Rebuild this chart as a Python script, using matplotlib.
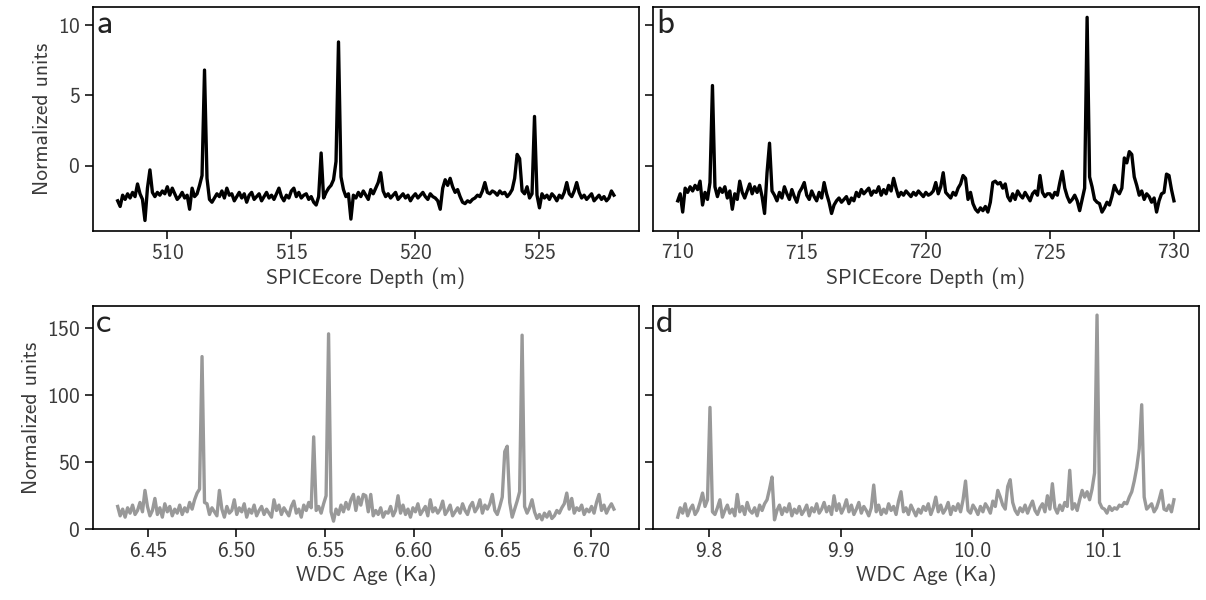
import numpy as np
import matplotlib
matplotlib.use("Agg")
import matplotlib.pyplot as plt

# panel a: SPICEcore depth 508-528 m, 0.1 m steps
depth_a_range = (508.0, 528.0)
signal_a = [
    -2.5, -2.9, -2.1, -2.4, -2.0, -2.3, -1.9, -2.2, -1.3, -2.0,
    -2.4, -3.9, -1.6, -0.3, -1.9, -2.2, -1.9, -2.1, -1.8, -2.0,
    -1.5, -2.1, -1.6, -2.0, -2.4, -2.2, -1.9, -2.3, -2.1, -3.1,
    -1.6, -2.2, -2.0, -1.4, -0.7, 6.8, -0.9, -2.4, -2.6, -2.3,
    -2.0, -2.2, -1.8, -2.3, -1.6, -2.1, -2.0, -2.5, -2.2, -1.9,
    -2.3, -2.0, -2.6, -2.1, -1.9, -2.4, -2.2, -2.0, -2.5, -2.2,
    -1.9, -2.3, -2.1, -2.4, -2.0, -1.6, -2.2, -2.5, -2.1, -2.3,
    -1.8, -1.6, -2.2, -1.9, -2.3, -2.1, -2.0, -2.4, -2.2, -2.6,
    -2.8, -2.2, 0.9, -2.3, -1.9, -1.6, -1.4, -1.0, 0.3, 8.8,
    -0.8, -1.7, -2.2, -2.0, -3.8, -2.1, -2.3, -1.9, -2.2, -1.8,
    -2.1, -2.4, -1.7, -2.0, -1.6, -1.2, -0.5, -1.8, -2.2, -2.0,
    -2.3, -2.1, -1.9, -2.4, -2.2, -2.0, -2.3, -2.1, -2.5, -2.2,
    -2.0, -2.3, -2.1, -1.9, -2.2, -2.4, -2.0, -2.2, -2.3, -2.5,
    -3.1, -1.6, -1.0, -1.4, -0.9, -1.5, -1.9, -1.7, -2.2, -2.6,
    -2.7, -2.5, -2.6, -2.4, -2.3, -2.1, -2.2, -1.8, -1.2, -1.9,
    -2.0, -1.8, -1.9, -2.1, -1.8, -2.0, -1.9, -2.2, -2.0, -1.7,
    -0.9, 0.8, 0.5, -1.8, -2.0, -1.5, -2.3, -2.0, 3.5, -2.1,
    -3.0, -2.0, -2.3, -2.1, -2.4, -2.0, -2.2, -2.5, -2.1, -2.3,
    -1.9, -1.2, -2.0, -2.2, -1.8, -1.2, -1.9, -2.3, -2.1, -2.4,
    -2.2, -2.0, -2.5, -2.3, -2.1, -2.4, -2.2, -2.5, -2.3, -1.8, -2.1,
]

# panel b: SPICEcore depth 710-730 m
depth_b_range = (710.0, 730.0)
signal_b = [
    -2.5, -2.0, -3.3, -1.6, -1.9, -1.5, -1.8, -1.4, -1.7, -1.1,
    -2.8, -1.9, -2.4, -1.2, 5.7, -1.5, -2.2, -1.6, -1.9, -1.5,
    -2.3, -1.8, -3.1, -2.0, -2.4, -1.1, -1.9, -2.3, -1.8, -1.3,
    -2.0, -1.5, -1.9, -1.4, -2.2, -3.4, -0.5, 1.6, -1.8, -2.1,
    -2.5, -1.9, -2.3, -1.5, -2.0, -2.4, -1.7, -2.2, -2.6, -1.9,
    -1.6, -1.2, -2.1, -2.4, -1.8, -2.2, -2.5, -1.9, -2.3, -1.2,
    -2.0, -2.6, -3.4, -2.8, -2.5, -2.3, -2.6, -2.4, -2.2, -2.7,
    -2.3, -2.5, -1.9, -2.2, -1.7, -2.0, -1.8, -1.6, -2.1, -1.8,
    -1.9, -1.5, -2.1, -1.7, -2.0, -1.4, -1.8, -0.9, -1.6, -2.2,
    -1.9, -2.1, -1.8, -2.0, -2.2, -1.9, -2.1, -1.8, -2.0, -2.2,
    -1.9, -2.1, -2.0, -1.8, -1.2, -2.0, -1.5, -0.5, -1.9, -2.1,
    -2.3, -1.9, -2.1, -1.6, -1.3, -0.7, -0.9, -2.4, -1.9, -2.7,
    -3.1, -3.3, -3.0, -3.2, -2.9, -3.3, -2.6, -1.2, -1.1, -1.3,
    -1.2, -1.6, -1.3, -2.2, -2.5, -2.0, -2.4, -1.8, -2.1, -2.3,
    -1.9, -2.2, -2.5, -2.0, -1.8, -2.1, -0.7, -1.9, -2.2, -2.0,
    -2.0, -2.3, -1.9, -2.1, -1.2, -0.4, -1.6, -2.2, -2.6, -2.4,
    -2.1, -2.5, -3.2, -2.4, -1.6, 10.55, -0.8, -1.5, -2.4, -2.6,
    -2.7, -3.3, -3.0, -2.6, -2.8, -2.2, -1.4, -1.8, -2.0, -1.6,
    0.55, 0.2, 1.0, 0.8, -0.8, -1.4, -2.1, -1.8, -2.4, -2.0,
    -2.2, -2.6, -2.3, -3.3, -2.5, -2.0, -1.9, -0.6, -0.7, -1.7, -2.5,
]

# panel c: WDC age 6.433-6.713 ka
age_c_range = (6.433, 6.713)
signal_c = [
    17, 10, 15, 9, 16, 12, 18, 11, 14, 20,
    13, 29, 17, 10, 14, 23, 11, 16, 9, 19,
    13, 17, 10, 15, 12, 18, 11, 16, 13, 20,
    15, 22, 27, 30, 129, 20, 19, 11, 16, 13,
    10, 29, 15, 9, 17, 12, 14, 22, 11, 16,
    13, 19, 9, 15, 12, 18, 10, 14, 17, 11,
    15, 12, 9, 22, 14, 18, 11, 16, 13, 10,
    17, 21, 12, 15, 9, 18, 14, 20, 16, 69,
    14, 17, 12, 19, 25, 146, 13, 6, 15, 11,
    18, 13, 20, 15, 22, 26, 14, 24, 18, 26,
    25, 13, 26, 10, 14, 11, 16, 9, 13, 12,
    17, 10, 14, 25, 12, 18, 11, 15, 9, 16,
    13, 19, 11, 14, 17, 10, 22, 13, 16, 12,
    15, 21, 11, 14, 18, 10, 13, 16, 12, 19,
    14, 11, 17, 20, 13, 16, 22, 12, 18, 15,
    19, 26, 14, 11, 17, 24, 58, 62, 20, 9,
    15, 21, 28, 145, 17, 12, 16, 22, 13, 8,
    11, 7, 12, 9, 13, 8, 10, 14, 12, 16,
    19, 27, 15, 23, 12, 16, 14, 18, 11, 15,
    13, 17, 12, 20, 26, 14, 18, 12, 16, 19, 15,
]

# panel d: WDC age 9.776-10.154 ka
age_d_range = (9.776, 10.154)
signal_d = [
    9, 16, 12, 19, 10, 15, 18, 11, 14, 20,
    27, 17, 22, 91, 13, 11, 16, 22, 9, 14,
    18, 12, 15, 10, 26, 13, 17, 11, 20, 14,
    12, 16, 10, 18, 14, 19, 22, 30, 39, 7,
    14, 18, 11, 16, 13, 19, 10, 15, 12, 17,
    11, 14, 18, 10, 16, 13, 19, 12, 15, 20,
    13, 17, 11, 25, 14, 19, 12, 16, 22, 13,
    18, 11, 15, 20, 12, 17, 14, 10, 16, 33,
    13, 18, 11, 15, 12, 19, 14, 17, 11, 21,
    28, 13, 16, 11, 18, 14, 10, 15, 12, 17,
    14, 19, 11, 16, 24, 13, 18, 12, 15, 20,
    11, 17, 14, 19, 13, 22, 36, 14, 12, 18,
    15, 11, 17, 13, 19, 16, 12, 21, 17, 29,
    24, 18, 15, 32, 37, 20, 14, 11, 16, 13,
    18, 12, 17, 21, 14, 11, 16, 19, 13, 25,
    15, 34, 16, 12, 18, 14, 20, 17, 44, 15,
    19, 14, 22, 29, 24, 28, 22, 30, 42, 160,
    20, 16, 15, 12, 17, 14, 16, 15, 18, 17,
    20, 19, 24, 28, 36, 46, 60, 93, 24, 15,
    17, 19, 13, 16, 22, 29, 15, 14, 18, 13, 22,
]

panel_letters = ["a", "b", "c", "d"]
x_labels = ["SPICEcore Depth (m)", "SPICEcore Depth (m)", "WDC Age (Ka)", "WDC Age (Ka)"]
y_label = "Normalized units"

plt.rcParams["font.family"] = ["cmss10", "DejaVu Sans"]
plt.rcParams["axes.unicode_minus"] = False
plt.rcParams["axes.formatter.use_mathtext"] = True
text_col = "#3a3a3a"
fs = 15.5

fig, axes = plt.subplots(2, 2, figsize=(12.06, 6.0), dpi=100, sharey="row")
fig.subplots_adjust(left=0.077, right=0.994, top=0.988, bottom=0.118,
                    wspace=0.026, hspace=0.336)

series = [
    (depth_a_range, signal_a, "black"),
    (depth_b_range, signal_b, "black"),
    (age_c_range, signal_c, "#999999"),
    (age_d_range, signal_d, "#999999"),
]

for ax, (xr, vals, col), letter, xl in zip(axes.flat, series, panel_letters, x_labels):
    x = np.linspace(xr[0], xr[1], len(vals))
    ax.plot(x, vals, color=col, lw=2.4)
    ax.text(0.006, 0.99, letter, transform=ax.transAxes, ha="left", va="top",
            fontsize=25, color="#222222")
    ax.set_xlabel(xl, fontsize=fs, color=text_col, labelpad=3)
    ax.tick_params(labelsize=fs, labelcolor=text_col, length=5.5, width=1.1)
    for s in ax.spines.values():
        s.set_linewidth(1.2)

axes[0, 0].set_yticks([0, 5, 10])
axes[1, 0].set_yticks([0, 50, 100, 150])
axes[1, 0].set_ylim(0, 167)
axes[0, 0].set_xticks([510, 515, 520, 525])
axes[0, 1].set_xticks([710, 715, 720, 725, 730])
axes[1, 0].set_xticks([6.45, 6.50, 6.55, 6.60, 6.65, 6.70])
axes[1, 0].set_xticklabels(["6.45", "6.50", "6.55", "6.60", "6.65", "6.70"])
axes[1, 1].set_xticks([9.8, 9.9, 10.0, 10.1])
axes[1, 1].set_xticklabels(["9.8", "9.9", "10.0", "10.1"])
for ax in axes[:, 0]:
    ax.set_ylabel(y_label, fontsize=fs, color=text_col)

fig.savefig("out.png", dpi=100)
